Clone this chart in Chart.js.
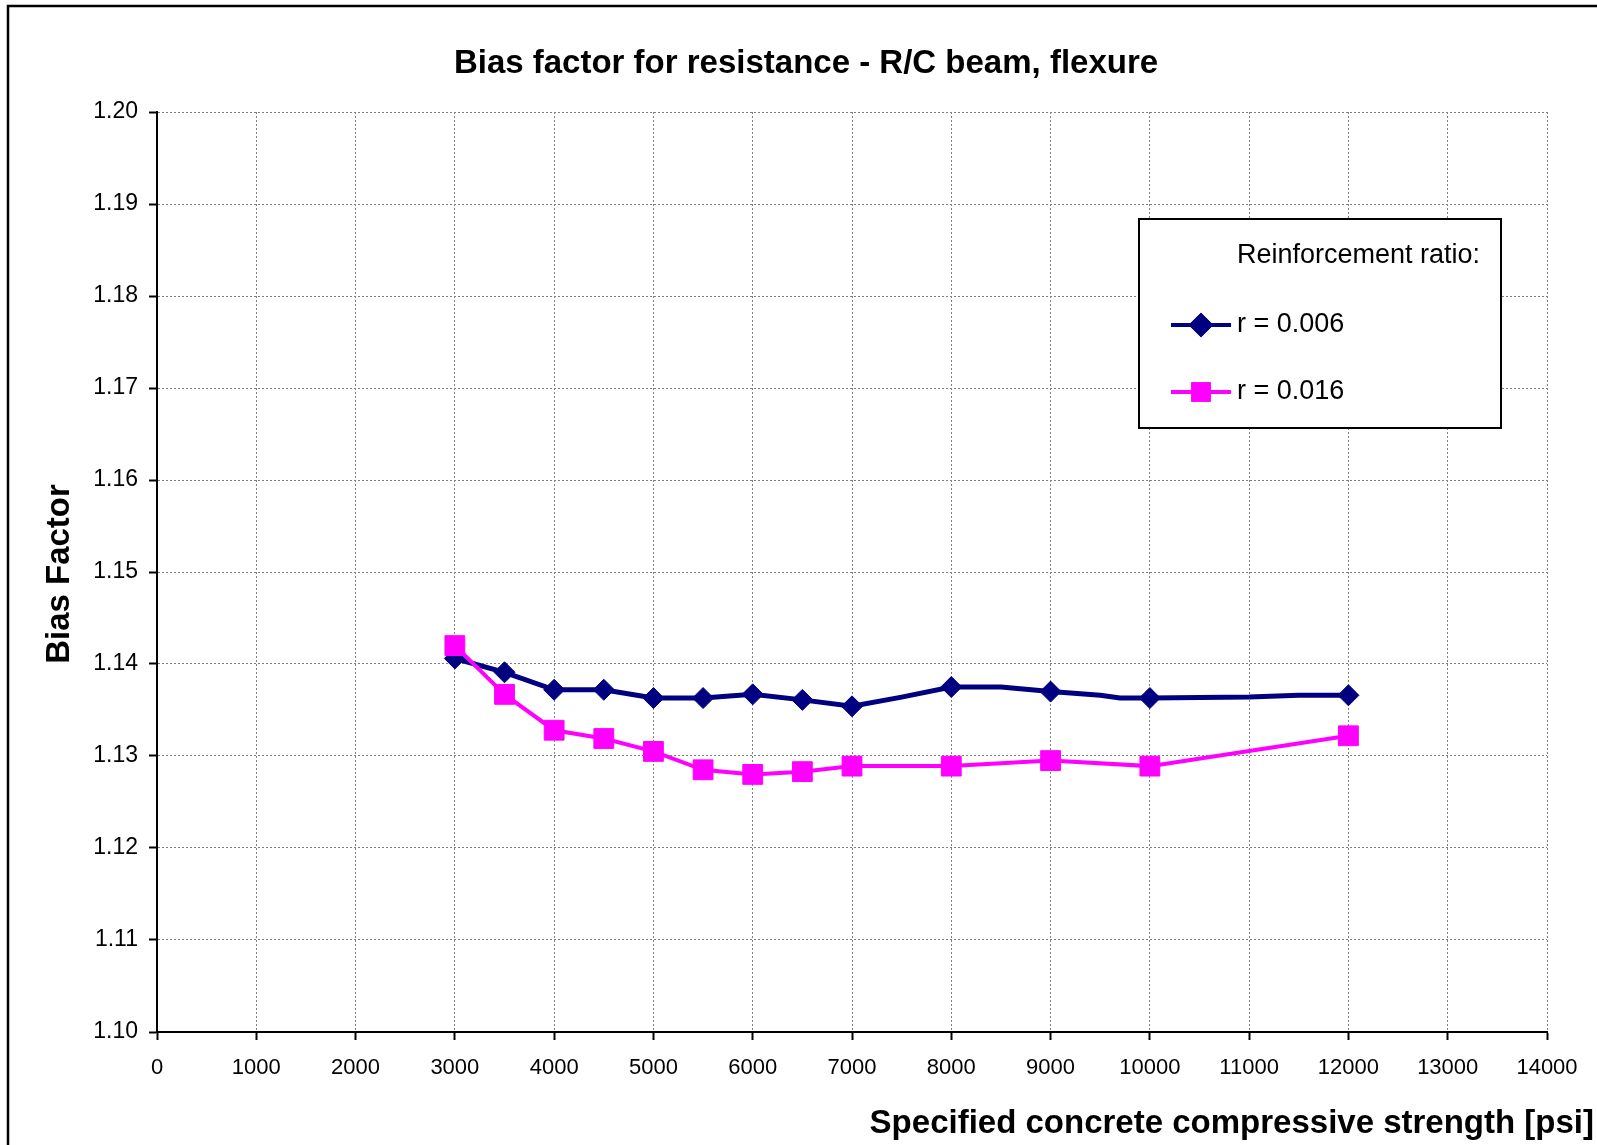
<!DOCTYPE html>
<html>
<head>
<meta charset="utf-8">
<title>Bias factor for resistance - R/C beam, flexure</title>
<script src="https://cdn.jsdelivr.net/npm/chart.js@4.4.0/dist/chart.umd.min.js"></script>
<style>
  body { margin: 0; background: #fff; }
  #wrap { width: 1597px; height: 1145px; position: relative; }
</style>
</head>
<body>
<div id="wrap"><canvas id="biasChart" width="1597" height="1145"></canvas></div>
<script>
// concrete strength [psi] and bias factor
var fcLow = [3000, 3500, 4000, 4500, 5000, 5500, 6000, 6500, 7000, 7500, 8000, 8500, 9000, 9500, 9700, 10000, 11000, 11500, 12000];
var biasLow = [1.1406, 1.1391, 1.1372, 1.1372, 1.1363, 1.1363, 1.1367, 1.1361, 1.1354, 1.1364, 1.1375, 1.1375, 1.1370, 1.1366, 1.1363, 1.1363, 1.1364, 1.1366, 1.1366];
// only these points carry a marker on the r = 0.006 line
var markedLow = [3000, 3500, 4000, 4500, 5000, 5500, 6000, 6500, 7000, 8000, 9000, 10000, 12000];

var fcHigh = [3000, 3500, 4000, 4500, 5000, 5500, 6000, 6500, 7000, 8000, 9000, 10000, 12000];
var biasHigh = [1.1420, 1.1367, 1.1328, 1.1319, 1.1305, 1.1285, 1.1280, 1.1283, 1.1289, 1.1289, 1.1295, 1.1289, 1.1322];

var seriesNames = ['r = 0.006', 'r = 0.016'];
var legendTitle = 'Reinforcement ratio:';
var chartTitle = 'Bias factor for resistance - R/C beam, flexure';
var xTitle = 'Specified concrete compressive strength [psi]';
var yTitle = 'Bias Factor';

var xMin = 0, xMax = 14000, xStep = 1000;
var yMin = 1.10, yMax = 1.20, yStep = 0.01;

var FONT = '"Liberation Sans", Arial, sans-serif';

function toPoints(xs, ys) {
    return xs.map(function (x, i) { return { x: x, y: ys[i] }; });
}

// titles, outer frame and the boxed legend
var extras = {
    id: 'extras',
    afterDraw: function (chart) {
        var ctx = chart.ctx;
        ctx.save();

        // outer frame (runs off the right and bottom edges)
        ctx.strokeStyle = '#000';
        ctx.lineWidth = 2.5;
        ctx.strokeRect(8, 6, 1620, 1180);

        ctx.fillStyle = '#000';
        ctx.font = 'bold 33px ' + FONT;
        ctx.textAlign = 'center';
        ctx.textBaseline = 'alphabetic';
        ctx.fillText(chartTitle, 806, 73);

        ctx.textAlign = 'right';
        ctx.fillText(xTitle, 1594, 1133);

        ctx.save();
        ctx.translate(69, 574);
        ctx.rotate(-Math.PI / 2);
        ctx.textAlign = 'center';
        ctx.fillText(yTitle, 0, 0);
        ctx.restore();

        // legend box
        var bx = 1139, by = 219, bw = 362, bh = 209;
        ctx.fillStyle = '#fff';
        ctx.fillRect(bx, by, bw, bh);
        ctx.strokeStyle = '#000';
        ctx.lineWidth = 2;
        ctx.strokeRect(bx, by, bw, bh);

        ctx.fillStyle = '#000';
        ctx.font = '27px ' + FONT;
        ctx.textAlign = 'left';
        ctx.textBaseline = 'middle';
        ctx.fillText(legendTitle, 1237, 256);

        var rowY = [325, 392];
        chart.data.datasets.forEach(function (ds, i) {
            var y = rowY[i];
            ctx.strokeStyle = ds.borderColor;
            ctx.lineWidth = 4;
            ctx.beginPath();
            ctx.moveTo(1171, y);
            ctx.lineTo(1231, y);
            ctx.stroke();
            Chart.helpers.drawPoint(ctx, {
                pointStyle: ds.pointStyle,
                radius: ds.legendRadius,
                borderWidth: 1
            }, 1201, y);
            ctx.fillStyle = ds.pointBackgroundColor;
            ctx.strokeStyle = ds.pointBorderColor;
            ctx.fill();
            ctx.stroke();
            ctx.fillStyle = '#000';
            ctx.fillText(ds.label, 1237, y);
        });

        ctx.restore();
    }
};

var gridStyle = {
    color: '#808080',
    lineWidth: 1,
    tickLength: 8,
    tickColor: '#000',
    tickWidth: 2,
    tickBorderDash: []
};

new Chart(document.getElementById('biasChart'), {
    type: 'line',
    data: {
        datasets: [{
            label: seriesNames[0],
            data: toPoints(fcLow, biasLow),
            borderColor: '#000080',
            backgroundColor: '#000080',
            pointBackgroundColor: '#000080',
            pointBorderColor: '#000080',
            borderWidth: 5,
            pointStyle: 'rectRot',
            pointRadius: function (c) {
                return markedLow.indexOf(fcLow[c.dataIndex]) >= 0 ? 10.5 : 0;
            },
            pointBorderWidth: 1,
            legendRadius: 9.5,
            tension: 0,
            order: 2
        }, {
            label: seriesNames[1],
            data: toPoints(fcHigh, biasHigh),
            borderColor: '#ff00ff',
            backgroundColor: '#ff00ff',
            pointBackgroundColor: '#ff00ff',
            pointBorderColor: '#ff00ff',
            borderWidth: 4,
            pointStyle: 'rect',
            pointRadius: 14,
            pointBorderWidth: 1,
            legendRadius: 11,
            tension: 0,
            order: 1
        }]
    },
    options: {
        responsive: false,
        animation: false,
        devicePixelRatio: 1,
        layout: { padding: { left: 0, right: 50, top: 112, bottom: 0 } },
        plugins: {
            legend: { display: false },
            title: { display: false },
            tooltip: { enabled: false }
        },
        scales: {
            x: {
                type: 'linear',
                min: xMin,
                max: xMax,
                afterFit: function (scale) { scale.height = 113; },
                ticks: {
                    stepSize: xStep,
                    color: '#000',
                    padding: 15,
                    maxRotation: 0,
                    font: { family: FONT, size: 22 },
                    callback: function (v) { return String(v); }
                },
                grid: gridStyle,
                border: { color: '#000', width: 2, dash: [2, 2] }
            },
            y: {
                type: 'linear',
                min: yMin,
                max: yMax,
                afterFit: function (scale) { scale.width = 157; },
                ticks: {
                    stepSize: yStep,
                    color: '#000',
                    padding: 11,
                    font: { family: FONT, size: 23 },
                    callback: function (v) { return v.toFixed(2); }
                },
                grid: gridStyle,
                border: { color: '#000', width: 2, dash: [2, 2] }
            }
        }
    },
    plugins: [extras]
});
</script>
</body>
</html>
